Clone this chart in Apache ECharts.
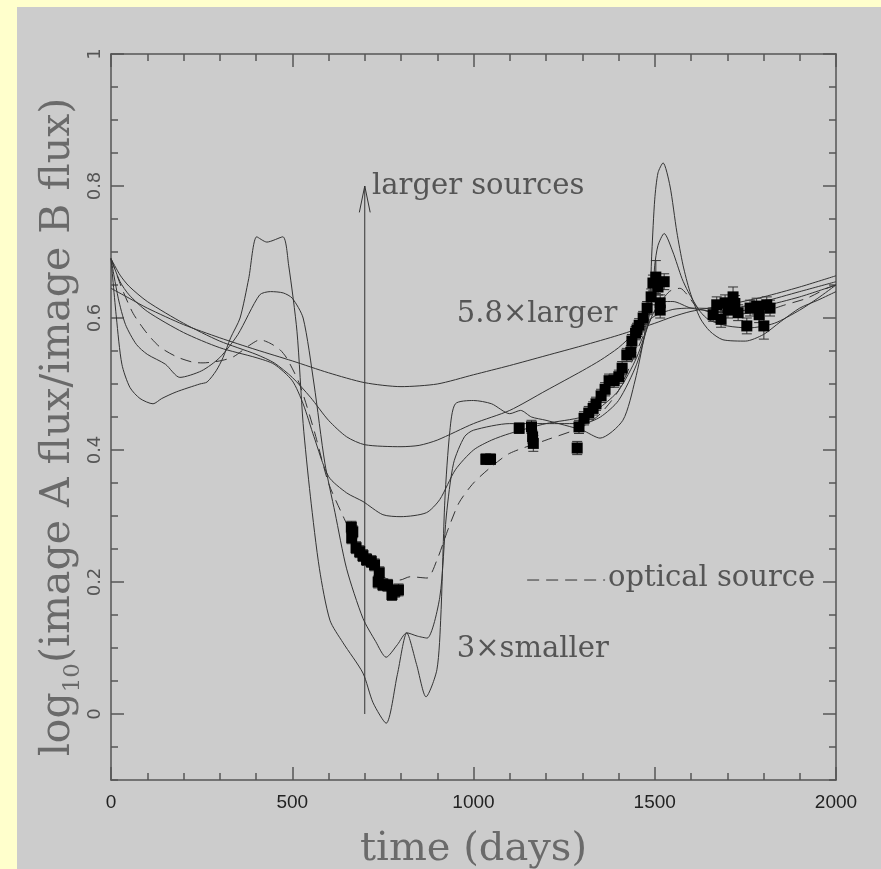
<!DOCTYPE html>
<html><head><meta charset="utf-8">
<script src="https://cdn.jsdelivr.net/npm/echarts@6/dist/echarts.min.js"></script>
<style>html,body{margin:0;padding:0;background:#FFFFCC;overflow:hidden}#c{width:881px;height:869px}</style>
</head><body><div id="c"></div>
<script>
// ---- tick values ----
const xMajor = [0, 500, 1000, 1500, 2000];
const yLabels = [0, 0.2, 0.4, 0.6, 0.8, 1];
const yMinor = [-0.1,-0.05,0,0.05,0.1,0.15,0.2,0.25,0.3,0.35,0.4,0.45,0.5,0.55,0.6,0.65,0.7,0.75,0.8,0.85,0.9,0.95,1];

// ---- model curves [day, log10 ratio] ----
const curve58larger = [[0,0.645],[50,0.63],[100,0.615],[200,0.59],[300,0.57],[400,0.552],[500,0.535],[600,0.517],[700,0.502],[800,0.496],[900,0.5],[1000,0.514],[1100,0.528],[1200,0.543],[1300,0.558],[1400,0.574],[1500,0.592],[1550,0.602],[1600,0.61],[1700,0.62],[1800,0.632],[1900,0.647],[2000,0.664]];
const curveB = [[0,0.69],[25,0.665],[50,0.648],[100,0.625],[200,0.592],[300,0.565],[400,0.545],[450,0.532],[500,0.51],[550,0.48],[600,0.445],[650,0.42],[700,0.408],[800,0.405],[850,0.407],[900,0.415],[1000,0.44],[1100,0.46],[1200,0.49],[1300,0.52],[1350,0.536],[1400,0.555],[1450,0.58],[1500,0.603],[1550,0.613],[1600,0.615],[1700,0.614],[1800,0.625],[1900,0.64],[2000,0.655]];
const curveC = [[0,0.69],[25,0.655],[50,0.635],[100,0.61],[200,0.578],[300,0.555],[400,0.54],[450,0.53],[500,0.505],[530,0.47],[560,0.42],[600,0.36],[650,0.335],[695,0.322],[750,0.302],[800,0.299],[870,0.305],[907,0.325],[950,0.37],[1000,0.4],[1050,0.415],[1100,0.425],[1200,0.44],[1300,0.45],[1350,0.465],[1400,0.49],[1450,0.54],[1490,0.6],[1520,0.625],[1550,0.625],[1600,0.615],[1700,0.608],[1800,0.618],[1900,0.632],[2000,0.65]];
const curveD = [[0,0.69],[20,0.63],[40,0.59],[70,0.56],[100,0.545],[150,0.53],[190,0.51],[250,0.52],[300,0.54],[350,0.575],[410,0.635],[440,0.64],[475,0.638],[500,0.63],[530,0.6],[560,0.5],[590,0.38],[618,0.305],[650,0.22],[695,0.145],[730,0.11],[759,0.086],[790,0.105],[816,0.123],[845,0.118],[872,0.115],[907,0.177],[925,0.3],[945,0.38],[975,0.42],[1000,0.43],[1100,0.44],[1200,0.44],[1300,0.44],[1350,0.45],[1400,0.475],[1450,0.53],[1480,0.59],[1495,0.64],[1500,0.68],[1509,0.71],[1526,0.728],[1550,0.7],[1575,0.66],[1592,0.64],[1625,0.61],[1650,0.597],[1700,0.588],[1760,0.585],[1830,0.592],[1900,0.612],[1950,0.63],[2000,0.65]];
const curve3smaller = [[0,0.69],[15,0.6],[30,0.53],[52,0.495],[80,0.478],[116,0.47],[140,0.478],[180,0.488],[245,0.5],[265,0.503],[290,0.52],[309,0.54],[330,0.57],[356,0.6],[380,0.66],[402,0.723],[430,0.715],[474,0.723],[490,0.68],[513,0.58],[530,0.44],[550,0.33],[575,0.22],[604,0.142],[640,0.108],[695,0.062],[723,0.017],[759,-0.014],[790,0.06],[816,0.123],[843,0.075],[869,0.026],[899,0.067],[910,0.15],[921,0.324],[935,0.43],[950,0.47],[1000,0.475],[1050,0.47],[1100,0.455],[1130,0.46],[1160,0.45],[1200,0.445],[1300,0.43],[1349,0.418],[1412,0.445],[1446,0.506],[1470,0.57],[1487,0.64],[1492,0.7],[1500,0.78],[1509,0.82],[1523,0.835],[1542,0.8],[1561,0.73],[1578,0.68],[1597,0.64],[1625,0.6],[1652,0.58],[1688,0.567],[1750,0.565],[1800,0.575],[1846,0.594],[1900,0.615],[1950,0.627],[2000,0.64]];
const curveOptical = [[0,0.69],[30,0.645],[61,0.607],[99,0.577],[135,0.556],[182,0.541],[226,0.533],[254,0.532],[300,0.535],[337,0.541],[383,0.559],[411,0.567],[438,0.562],[466,0.552],[485,0.539],[520,0.5],[560,0.43],[600,0.35],[640,0.3],[680,0.255],[720,0.225],[760,0.205],[797,0.203],[825,0.208],[872,0.206],[899,0.233],[930,0.28],[960,0.32],[1000,0.35],[1050,0.375],[1100,0.395],[1200,0.415],[1300,0.435],[1350,0.455],[1400,0.49],[1450,0.55],[1500,0.61],[1540,0.64],[1570,0.645],[1590,0.635],[1620,0.615],[1700,0.605],[1800,0.61],[1860,0.62],[1920,0.63],[1975,0.645],[2000,0.65]];

// ---- observed points ----
const obsDay = [663,667,664,676,686,695,705,718,727,740,737,750,763,775,783,793,
  1034,1047,1126,1160,1163,1165,1286,1291,1305,1318,1330,1338,1352,1363,1374,1388,1401,1410,1423,1434,1437,1447,1451,1457,1468,1479,1490,1495,1503,1509,1515,1515,1526,
  1661,1671,1683,1694,1702,1716,1721,1730,1754,1763,1781,1788,1801,1809,1818];
const obsVal = [0.283,0.276,0.267,0.252,0.246,0.24,0.234,0.231,0.226,0.214,0.2,0.196,0.195,0.181,0.186,0.188,
  0.386,0.386,0.433,0.435,0.42,0.41,0.403,0.435,0.448,0.456,0.463,0.47,0.482,0.492,0.505,0.505,0.511,0.524,0.544,0.548,0.565,0.577,0.582,0.589,0.6,0.615,0.632,0.653,0.662,0.647,0.623,0.612,0.655,
  0.605,0.62,0.598,0.623,0.612,0.632,0.622,0.608,0.588,0.615,0.618,0.605,0.588,0.62,0.615];
const obsErr = [0.009,0.009,0.009,0.009,0.009,0.009,0.009,0.009,0.009,0.009,0.009,0.009,0.009,0.009,0.009,0.009,
  0.008,0.008,0.008,0.01,0.01,0.012,0.01,0.01,0.01,0.01,0.01,0.01,0.01,0.01,0.01,0.01,0.01,0.01,0.01,0.01,0.01,0.01,0.01,0.01,0.01,0.01,0.012,0.012,0.025,0.012,0.012,0.012,0.012,
  0.01,0.012,0.012,0.012,0.012,0.015,0.012,0.012,0.012,0.012,0.012,0.012,0.02,0.012,0.012];

// ---- annotations ----
const arrowShaft = [[700,0],[700,0.8]];
const arrowHead = [[685,0.76],[700,0.8],[715,0.76]];
const legendDash = [[1148,0.203],[1363,0.203]];
const notes = [
  {text:'larger sources', at:[720,0.8]},
  {text:'5.8\u00d7larger', at:[954,0.605]},
  {text:'3\u00d7smaller', at:[954,0.098]},
  {text:'optical source', at:[1371,0.205]}
];

const AX = '#555';
const serif = 'DejaVu Serif';
const obs = obsDay.map((d,i)=>[d,obsVal[i],obsErr[i]]);

function xAxisDef(pos, labels){
  return {type:'value', min:0, max:2000, interval:500, position:pos,
    axisLine:{show:true,onZero:false,lineStyle:{color:AX,width:1.5}},
    axisTick:{show:true,inside:true,length:13,lineStyle:{color:AX,width:1.5}},
    minorTick:{show:true,splitNumber:5,length:7,lineStyle:{color:AX,width:1.5}},
    splitLine:{show:false}, minorSplitLine:{show:false},
    axisLabel:{show:labels,margin:13,color:'#222',fontFamily:'Liberation Sans',fontSize:19,formatter:v=>String(v)},
    name: labels ? 'time (days)' : '', nameLocation:'middle', nameGap:50,
    nameTextStyle:{fontFamily:serif,fontSize:40,color:'#6a6a6a'}
  };
}
function yAxisDef(pos, major, labels){
  return {type:'value', min:-0.1, max:1, position:pos,
    axisLine:{show:major,onZero:false,lineStyle:{color:AX,width:1.5}},
    axisTick:{show:true,inside:true,length:major?13:7,customValues:major?yLabels:yMinor,lineStyle:{color:AX,width:1.5}},
    splitLine:{show:false},
    axisLabel:{show:labels,customValues:yLabels,rotate:90,margin:7,color:'#555',fontFamily:'DejaVu Sans',fontSize:18,
      formatter:v=>String(Math.round(v*10)/10)}
  };
}
const lineBase = {type:'line', showSymbol:false, symbol:'none', smooth:0.25, silent:true, xAxisIndex:0, yAxisIndex:0,
  lineStyle:{color:'#333',width:1}, z:2};

const chart = echarts.init(document.getElementById('c'), null, {renderer:'canvas'});
const panel = {type:'rect', shape:{x:17,y:7,width:900,height:900}, style:{fill:'#CCCCCC'}, z:-100, silent:true};
const option = {
  animation:false,
  backgroundColor:'#FFFFCC',
  grid:{left:111,right:45,top:54,bottom:89,containLabel:false,outerBoundsMode:'none'},
  xAxis:[xAxisDef('bottom',true), xAxisDef('top',false)],
  yAxis:[yAxisDef('left',true,true), yAxisDef('left',false,false), yAxisDef('right',true,false), yAxisDef('right',false,false)],
  graphic:[panel],
  series:[
    Object.assign({}, lineBase, {data:curve58larger}),
    Object.assign({}, lineBase, {data:curveB}),
    Object.assign({}, lineBase, {data:curveC}),
    Object.assign({}, lineBase, {data:curveD}),
    Object.assign({}, lineBase, {data:curve3smaller}),
    Object.assign({}, lineBase, {data:curveOptical, lineStyle:{color:'#333',width:1,type:[11,7]}}),
    Object.assign({}, lineBase, {data:arrowShaft, smooth:false}),
    Object.assign({}, lineBase, {data:arrowHead, smooth:false}),
    Object.assign({}, lineBase, {data:legendDash, smooth:false, lineStyle:{color:'#333',width:1,type:[12,7]}}),
    {type:'custom', xAxisIndex:0, yAxisIndex:0, z:4, silent:true, encode:{x:0,y:1},
      renderItem:(p,api)=>{
        const x=api.value(0), y=api.value(1), e=api.value(2);
        const hi=api.coord([x,y+e]), lo=api.coord([x,y-e]);
        const w=5, st={stroke:'#333',lineWidth:1};
        return {type:'group', children:[
          {type:'line',shape:{x1:hi[0],y1:hi[1],x2:lo[0],y2:lo[1]},style:st},
          {type:'line',shape:{x1:hi[0]-w,y1:hi[1],x2:hi[0]+w,y2:hi[1]},style:st},
          {type:'line',shape:{x1:lo[0]-w,y1:lo[1],x2:lo[0]+w,y2:lo[1]},style:st}
        ]};
      }, data:obs},
    {type:'scatter', xAxisIndex:0, yAxisIndex:0, z:5, silent:true, symbol:'rect', symbolSize:11,
      itemStyle:{color:'#000',opacity:1}, data:obs.map(o=>[o[0],o[1]])}
  ]
};
chart.setOption(option);
const g = notes.map(n=>{
  const p = chart.convertToPixel({xAxisIndex:0,yAxisIndex:0}, n.at);
  return {type:'text', x:p[0], y:p[1], z:10, silent:true,
    style:{text:n.text, fontFamily:serif, fontSize:29, fill:'#555', align:'left', verticalAlign:'middle'}};
});
// y-axis title, centred beside the plot
const yTopPx = chart.convertToPixel({yAxisIndex:0}, 1), yBotPx = chart.convertToPixel({yAxisIndex:0}, -0.1);
g.push({type:'text', x:58, y:(yTopPx+yBotPx)/2+10, rotation:Math.PI/2, z:10, silent:true,
  style:{text:'{a|log}{s|10}{a|(image A flux/image B flux)}', align:'center', verticalAlign:'middle',
    rich:{a:{fontFamily:serif,fontSize:41,fill:'#6a6a6a',color:'#6a6a6a'},
          s:{fontFamily:serif,fontSize:23,fill:'#6a6a6a',color:'#6a6a6a',padding:[30,0,0,0]}}}});
chart.setOption({graphic:[panel].concat(g)});
</script></body></html>
